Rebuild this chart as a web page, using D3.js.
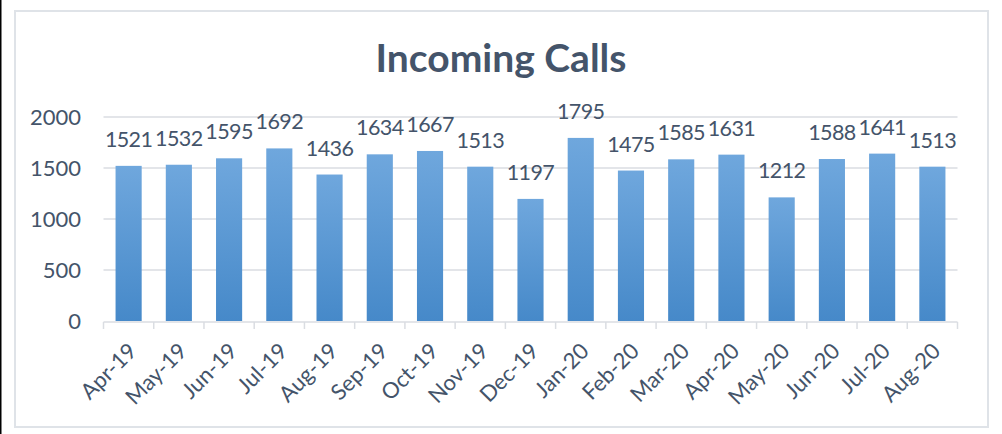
<!DOCTYPE html>
<html>
<head>
<meta charset="utf-8">
<script src="https://cdn.jsdelivr.net/npm/d3@7"></script>
<style>
  body { margin: 0; background: #fff; }
  svg { display: block; }
  text { font-family: Lato, "Open Sans", sans-serif; fill: #44546a; }
</style>
</head>
<body>
<div id="chart"></div>
<script>
var months = ["Apr-19", "May-19", "Jun-19", "Jul-19", "Aug-19", "Sep-19", "Oct-19", "Nov-19", "Dec-19",
              "Jan-20", "Feb-20", "Mar-20", "Apr-20", "May-20", "Jun-20", "Jul-20", "Aug-20"];
var calls = [1521, 1532, 1595, 1692, 1436, 1634, 1667, 1513, 1197,
             1795, 1475, 1585, 1631, 1212, 1588, 1641, 1513];
var yTicks = [0, 500, 1000, 1500, 2000];

var width = 1002,
    height = 434;

var svg = d3.select("#chart")
    .append("svg")
    .attr("width", width)
    .attr("height", height);

// black strip on the left edge
svg.append("rect")
    .attr("x", 0).attr("y", 0)
    .attr("width", 1.5).attr("height", height)
    .style("fill", "#000");

// chart frame
svg.append("rect")
    .attr("x", 15).attr("y", 11)
    .attr("width", 973).attr("height", 416)
    .style("fill", "#fff")
    .style("stroke", "#dfe3e8")
    .style("stroke-width", 2);

var grad = svg.append("defs").append("linearGradient")
    .attr("id", "barfill")
    .attr("x1", 0).attr("y1", 0).attr("x2", 0).attr("y2", 1);
grad.append("stop").attr("offset", "0%").style("stop-color", "#6fa7dd");
grad.append("stop").attr("offset", "100%").style("stop-color", "#4689c9");

var x = d3.scaleBand()
    .domain(months)
    .range([103.5, 957.5])
    .paddingInner(0.48)
    .paddingOuter(0.24);

var y = d3.scaleLinear()
    .domain([0, 2000])
    .range([321, 117]);

// gridlines
svg.append("g").selectAll("line")
    .data(yTicks.slice(1))
    .enter().append("line")
    .attr("x1", 103.5)
    .attr("x2", 957.5)
    .attr("y1", function(d) { return y(d); })
    .attr("y2", function(d) { return y(d); })
    .style("stroke", "#dadde2")
    .style("stroke-width", 1.5);

// y axis labels
var yAxis = svg.append("g")
    .attr("transform", "translate(90,0)")
    .call(d3.axisLeft(y).tickValues(yTicks).tickFormat(d3.format("d")).tickSize(0));
yAxis.select(".domain").remove();
yAxis.selectAll("text")
    .style("font-size", "22px")
    .style("fill", "#44546a")
    .attr("dy", "0.35em")
    .attr("x", -9);

// bars
svg.append("g").selectAll("rect")
    .data(calls)
    .enter().append("rect")
    .attr("x", function(d, i) { return x(months[i]); })
    .attr("y", function(d) { return y(d); })
    .attr("width", x.bandwidth())
    .attr("height", function(d) { return y(0) - y(d); })
    .style("fill", "url(#barfill)");

// value labels
svg.append("g").selectAll("text")
    .data(calls)
    .enter().append("text")
    .attr("x", function(d, i) { return x(months[i]) + x.bandwidth() / 2; })
    .attr("y", function(d) { return y(d) - 19; })
    .attr("text-anchor", "middle")
    .style("font-size", "21.5px")
    .style("letter-spacing", "-0.6px")
    .text(function(d) { return d; });

// x axis line + tick marks at category boundaries
var step = x.step();
var axisG = svg.append("g");
axisG.append("line")
    .attr("x1", 103.5).attr("x2", 957.5)
    .attr("y1", 322).attr("y2", 322)
    .style("stroke", "#dadde2")
    .style("stroke-width", 1.5);
axisG.selectAll("line.tick")
    .data(d3.range(months.length + 1))
    .enter().append("line")
    .attr("class", "tick")
    .attr("x1", function(i) { return 103.5 + i * step; })
    .attr("x2", function(i) { return 103.5 + i * step; })
    .attr("y1", 322).attr("y2", 329)
    .style("stroke", "#dadde2")
    .style("stroke-width", 1.5);

// rotated month labels
svg.append("g").selectAll("text")
    .data(months)
    .enter().append("text")
    .attr("transform", function(d) {
        return "translate(" + (x(d) + x.bandwidth() / 2 + 4) + ",347) rotate(-45)";
    })
    .attr("text-anchor", "end")
    .attr("dy", "0.35em")
    .style("font-size", "22px")
    .text(function(d) { return d; });

// title
svg.append("text")
    .attr("x", 501)
    .attr("y", 72)
    .attr("text-anchor", "middle")
    .style("font-size", "39px")
    .style("font-weight", "bold")
    .text("Incoming Calls");
</script>
</body>
</html>
